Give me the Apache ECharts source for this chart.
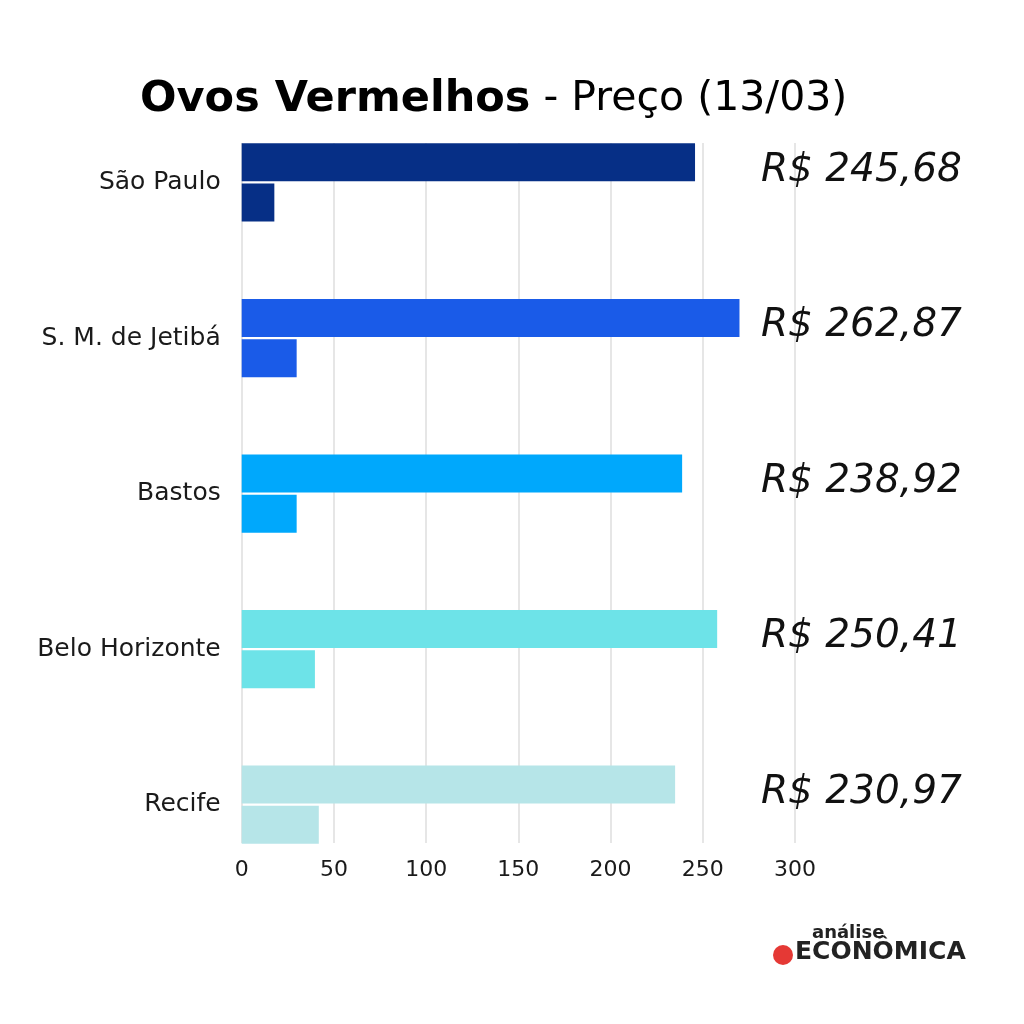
<!DOCTYPE html>
<html><head><meta charset="utf-8">
<script src="https://cdn.jsdelivr.net/npm/echarts@6/dist/echarts.min.js"></script>
<style>html,body{margin:0;padding:0;background:#fff}#c{width:1024px;height:1024px}</style>
</head><body><div id="c"></div>
<script>
const categories = ['São Paulo', 'S. M. de Jetibá', 'Bastos', 'Belo Horizonte', 'Recife'];
const mainValues = [245.8, 269.9, 238.8, 257.8, 235.0];
const smallValues = [17.7, 29.8, 29.8, 39.7, 41.8];
const priceLabels = ['R$ 245,68', 'R$ 262,87', 'R$ 238,92', 'R$ 250,41', 'R$ 230,97'];
const colors = ['#062f86', '#1a5be8', '#00a8fc', '#6de3e8', '#b6e5e8'];
const xTicks = [0, 50, 100, 150, 200, 250, 300];

const chart = echarts.init(document.getElementById('c'));
const font = 'DejaVu Sans';
chart.setOption({
  backgroundColor: '#fff',
  animation: false,
  title: {
    text: '{b|Ovos Vermelhos}{r| - Preço (13/03)}',
    left: 135, top: 73,
    textStyle: {
      rich: {
        b: {fontFamily: 'DejaVu Sans', fontWeight: 'bold', fontSize: 43, color: '#000'},
        r: {fontFamily: 'DejaVu Sans', fontWeight: 'normal', fontSize: 41, color: '#000'}
      }
    }
  },
  grid: [
    {left: 241.7, right: 229, top: 104.7, bottom: 141.5},
    {left: 241.7, right: 229, top: 143, bottom: 181}
  ],
  xAxis: [
    {gridIndex: 0, type: 'value', min: 0, max: 300, show: false},
    {gridIndex: 1, type: 'value', min: xTicks[0], max: xTicks[xTicks.length-1], interval: 50,
      axisLine: {show: false}, axisTick: {show: false},
      splitLine: {lineStyle: {color: '#dedede', width: 1.5}},
      axisLabel: {color: '#1a1a1a', fontFamily: font, fontSize: 22, margin: 16}}
  ],
  yAxis: [
    {gridIndex: 0, type: 'category', data: categories, inverse: true,
      axisLine: {show: false}, axisTick: {show: false},
      axisLabel: {color: '#1a1a1a', fontFamily: font, fontSize: 25, margin: 21}},
    {gridIndex: 0, type: 'category', data: categories, inverse: true, position: 'right',
      axisLine: {show: false}, axisTick: {show: false},
      axisLabel: {formatter: (v, i) => '{p|' + priceLabels[i] + '}', align: 'left', margin: -34,
        rich: {p: {color: '#111', fontFamily: 'DejaVu Sans', fontStyle: 'italic', fontSize: 39,
          padding: [0, 0, 24, 0]}}}},
    {gridIndex: 1, type: 'value', show: false, min: 0, max: 1}
  ],
  series: [
    {type: 'bar', xAxisIndex: 0, yAxisIndex: 0, barWidth: 38, barGap: '6%',
      data: mainValues.map((v, i) => ({value: v, itemStyle: {color: colors[i]}}))},
    {type: 'bar', xAxisIndex: 0, yAxisIndex: 0, barWidth: 38, barGap: '6%',
      data: smallValues.map((v, i) => ({value: v, itemStyle: {color: colors[i]}}))}
  ],
  graphic: [
    {type: 'text', left: 812, top: 924, style: {text: 'análise', fontFamily: 'DejaVu Sans', fontWeight: 'bold', fontSize: 18, fill: '#222'}},
    {type: 'circle', shape: {cx: 783, cy: 955, r: 10}, style: {fill: '#e53935'}},
    {type: 'text', left: 795, top: 940, style: {text: 'ECONÔMICA', fontFamily: 'DejaVu Sans', fontWeight: 'bold', fontSize: 25, fill: '#222'}}
  ]
});
</script></body></html>
